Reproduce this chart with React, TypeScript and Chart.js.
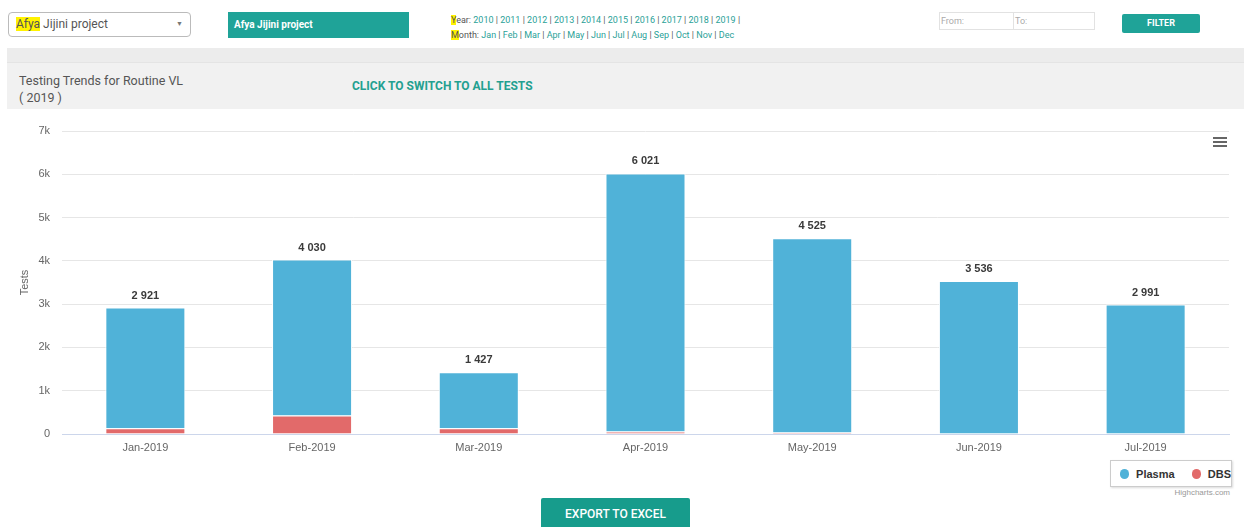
import React, { useEffect, useRef } from "react";
import { Chart, registerables } from "chart.js";

Chart.register(...registerables);

const categories = ["Jan-2019", "Feb-2019", "Mar-2019", "Apr-2019", "May-2019", "Jun-2019", "Jul-2019"];
const totals = [2921, 4030, 1427, 6021, 4525, 3536, 2991];
const dbsValues = [135, 430, 135, 55, 35, 0, 0];
const plasmaValues = [2786, 3600, 1292, 5966, 4490, 3536, 2991];
const yTicks = [0, 1000, 2000, 3000, 4000, 5000, 6000, 7000];
const years = ["2010", "2011", "2012", "2013", "2014", "2015", "2016", "2017", "2018", "2019"];
const months = ["Jan", "Feb", "Mar", "Apr", "May", "Jun", "Jul", "Aug", "Sep", "Oct", "Nov", "Dec"];

const PLASMA = "#50b2d8";
const DBS = "#e26a6a";
const TEAL = "#1fa398";
const FONT = "'Liberation Sans', Arial, sans-serif";

const fmt = (n: number) => String(n).replace(/\B(?=(\d{3})+(?!\d))/g, " ");

const totalLabels = {
  id: "totalLabels",
  afterDatasetsDraw(chart: any) {
    const ctx = chart.ctx;
    const y = chart.scales.y;
    const x = chart.scales.x;
    ctx.save();
    ctx.font = `bold 11px ${FONT}`;
    ctx.textAlign = "center";
    ctx.textBaseline = "middle";
    totals.forEach((t, i) => {
      const px = x.getPixelForValue(i);
      const py = y.getPixelForValue(t) - 12;
      ctx.lineWidth = 3;
      ctx.strokeStyle = "#fff";
      ctx.lineJoin = "round";
      ctx.strokeText(fmt(t), px, py);
      ctx.fillStyle = "#3a3a3a";
      ctx.fillText(fmt(t), px, py);
    });
    ctx.restore();
  },
};

function BarChart() {
  const ref = useRef<HTMLCanvasElement | null>(null);
  useEffect(() => {
    if (!ref.current) return;
    const chart = new Chart(ref.current, {
      type: "bar",
      data: {
        labels: categories,
        datasets: [
          {
            label: "DBS",
            data: dbsValues,
            backgroundColor: DBS,
            borderColor: "#ffffff",
            borderWidth: 1,
            categoryPercentage: 0.8,
            barPercentage: 0.6,
          },
          {
            label: "Plasma",
            data: plasmaValues,
            backgroundColor: PLASMA,
            borderColor: "#ffffff",
            borderWidth: 1,
            categoryPercentage: 0.8,
            barPercentage: 0.6,
          },
        ],
      },
      options: {
        animation: false,
        responsive: true,
        maintainAspectRatio: false,
        layout: { padding: { top: 19, right: 15, bottom: 0, left: 0 } },
        plugins: {
          legend: { display: false },
          tooltip: { enabled: false },
        },
        scales: {
          x: {
            stacked: true,
            grid: { display: false, drawTicks: false },
            border: { display: true, color: "#ccd6eb" },
            ticks: { color: "#666", font: { family: FONT, size: 11 }, padding: 7, maxRotation: 0 },
            afterFit: (s: any) => {
              s.height = 23;
            },
          },
          y: {
            stacked: true,
            min: 0,
            max: 7000,
            afterBuildTicks: (s: any) => {
              s.ticks = yTicks.map((v) => ({ value: v }));
            },
            grid: { color: "#e6e6e6", drawTicks: false },
            border: { display: false },
            ticks: {
              color: "#666",
              font: { family: FONT, size: 11 },
              padding: 12,
              callback: (v: any) => (v === 0 ? "0" : v / 1000 + "k"),
            },
            title: {
              display: true,
              text: "Tests",
              color: "#666",
              font: { family: FONT, size: 11 },
              padding: { top: 10, bottom: 0 },
            },
            afterFit: (s: any) => {
              s.width = 54;
            },
          },
        },
      },
      plugins: [totalLabels],
    });
    return () => chart.destroy();
  }, []);
  return <canvas ref={ref} />;
}

export default function App() {
  const link = { color: "#2aa198" };
  return (
    <div
      style={{
        position: "fixed",
        left: 0,
        top: 0,
        width: 1244,
        height: 527,
        background: "#fff",
        overflow: "hidden",
        fontFamily: "Roboto, 'Open Sans', sans-serif",
      }}
    >
      {/* dropdown */}
      <div
        style={{
          position: "absolute",
          left: 8,
          top: 12,
          width: 181,
          height: 23,
          border: "1px solid #bbb",
          borderRadius: 4,
          fontSize: 12,
          lineHeight: "23px",
          color: "#555",
          boxSizing: "content-box",
        }}
      >
        <span style={{ marginLeft: 7 }}>
          <span style={{ background: "#fff200" }}>Afya</span> Jijini project
        </span>
        <span style={{ position: "absolute", right: 7, top: 0, fontSize: 7, color: "#777" }}>▼</span>
      </div>
      {/* teal box */}
      <div
        style={{
          position: "absolute",
          left: 228,
          top: 12,
          width: 181,
          height: 26,
          background: TEAL,
          color: "#fff",
          fontSize: 10,
          fontWeight: "bold",
          lineHeight: "26px",
          paddingLeft: 6,
          boxSizing: "border-box",
        }}
      >
        Afya Jijini project
      </div>
      {/* years / months */}
      <div style={{ position: "absolute", left: 451, top: 13, fontSize: 9, lineHeight: "15px", color: "#555" }}>
        <div>
          <span style={{ background: "#fff200" }}>Y</span>ear:{" "}
          {years.map((y, i) => (
            <span key={y}>
              <span style={link}>{y}</span> |{i < years.length - 1 ? " " : ""}
            </span>
          ))}
        </div>
        <div>
          <span style={{ background: "#fff200" }}>M</span>onth:{" "}
          {months.map((m, i) => (
            <span key={m}>
              <span style={link}>{m}</span>
              {i < months.length - 1 ? " | " : ""}
            </span>
          ))}
        </div>
      </div>
      {/* from / to */}
      <div
        style={{
          position: "absolute",
          left: 939,
          top: 12,
          width: 156,
          height: 18,
          border: "1px solid #e2e2e2",
          boxSizing: "border-box",
          fontSize: 9,
          color: "#aaa",
          lineHeight: "16px",
        }}
      >
        <span style={{ position: "absolute", left: 1 }}>From:</span>
        <span style={{ position: "absolute", left: 73, top: -1, width: 1, height: 18, background: "#e2e2e2" }} />
        <span style={{ position: "absolute", left: 75 }}>To:</span>
      </div>
      <div
        style={{
          position: "absolute",
          left: 1122,
          top: 14,
          width: 78,
          height: 19,
          background: TEAL,
          borderRadius: 2,
          color: "#fff",
          fontSize: 9,
          fontWeight: "bold",
          textAlign: "center",
          lineHeight: "19px",
        }}
      >
        FILTER
      </div>
      {/* gray band */}
      <div style={{ position: "absolute", left: 7, top: 48, width: 1237, height: 14, background: "#ececec" }} />
      {/* header */}
      <div
        style={{
          position: "absolute",
          left: 7,
          top: 62,
          width: 1237,
          height: 47,
          background: "#f1f1f1",
          borderTop: "1px solid #e4e4e4",
          boxSizing: "border-box",
        }}
      >
        <div style={{ position: "absolute", left: 12, top: 9, fontSize: 12.5, lineHeight: "17px", color: "#555" }}>
          Testing Trends for Routine VL
          <br />( 2019 )
        </div>
        <div
          style={{
            position: "absolute",
            left: 345,
            top: 16,
            fontSize: 12,
            fontWeight: "bold",
            color: "#23a090",
          }}
        >
          CLICK TO SWITCH TO ALL TESTS
        </div>
      </div>
      {/* chart */}
      <div style={{ position: "absolute", left: 8, top: 112, width: 1236, height: 345 }}>
        <BarChart />
      </div>
      {/* hamburger */}
      <div style={{ position: "absolute", left: 1213, top: 137, width: 14 }}>
        {[0, 1, 2].map((k) => (
          <div key={k} style={{ height: 2, background: "#666", marginBottom: 2 }} />
        ))}
      </div>
      {/* legend */}
      <div
        style={{
          position: "absolute",
          left: 1110,
          top: 460,
          width: 122,
          height: 27,
          border: "1px solid #ccc",
          boxShadow: "1px 1px 2px rgba(0,0,0,0.15)",
          boxSizing: "border-box",
          fontFamily: FONT,
          fontSize: 11,
          fontWeight: "bold",
          color: "#333",
          display: "flex",
          alignItems: "center",
        }}
      >
        <span style={{ width: 10, height: 10, borderRadius: 5, background: PLASMA, marginLeft: 9, marginRight: 7 }} />
        Plasma
        <span style={{ width: 10, height: 10, borderRadius: 5, background: DBS, marginLeft: 17, marginRight: 7 }} />
        DBS
      </div>
      <div style={{ position: "absolute", right: 14, top: 488, fontSize: 8, color: "#999", fontFamily: FONT }}>
        Highcharts.com
      </div>
      {/* export */}
      <div
        style={{
          position: "absolute",
          left: 541,
          top: 498,
          width: 149,
          height: 32,
          background: "#179c8c",
          borderRadius: 2,
          color: "#fff",
          fontSize: 12,
          fontWeight: 500,
          textAlign: "center",
          lineHeight: "32px",
        }}
      >
        EXPORT TO EXCEL
      </div>
    </div>
  );
}
